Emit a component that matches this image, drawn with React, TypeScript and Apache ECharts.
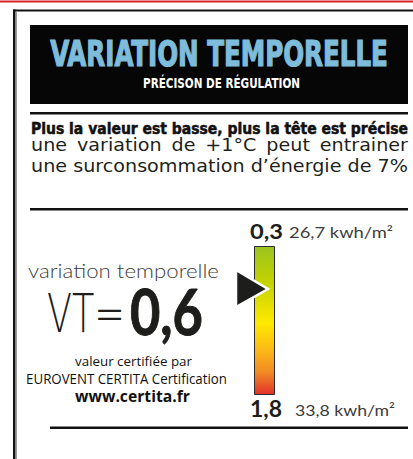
import React, { useEffect, useRef } from 'react';
import * as echarts from 'echarts';

// ---- data ----
const scaleValues = [0.3, 1.8];
const scaleLabels = ['0,3', '1,8'];
const energyLabels = ['26,7 kwh/m²', '33,8 kwh/m²'];
const vtPrefix = 'VT=';
const vtValue = '0,6';
const barColors = ['#9bc31f', '#c5d300', '#ffe900', '#fbb817', '#f08a23', '#e3312b'];
const barStops = [0, 0.25, 0.52, 0.7, 0.85, 1];
const titleText = 'VARIATION TEMPORELLE';
const subtitleText = 'PRÉCISON DE RÉGULATION';
const leadText = 'Plus la valeur est basse, plus la tête est précise';
const bodyLines = [
  'une variation de +1°C peut entrainer',
  'une surconsommation d’énergie de 7%',
];
const caption = 'variation temporelle';
const certLines = ['valeur certifiée par', 'EUROVENT CERTITA Certification', 'www.certita.fr'];

// ---- fonts ----
const COND = "'DejaVu Sans Condensed', 'DejaVu Sans', sans-serif";
const GEO = "Lato, 'Noto Sans', sans-serif";
const BODY = "'DejaVu Sans', sans-serif";
const LIGHT = "'DejaVu Sans', sans-serif";
const MYR = "'Open Sans', 'Noto Sans', sans-serif";

let ctx: CanvasRenderingContext2D | null = null;
function measure(text: string, size: number, weight: string | number, family: string) {
  if (!ctx) ctx = document.createElement('canvas').getContext('2d');
  ctx!.font = `${weight} ${size}px ${family}`;
  return ctx!.measureText(text).width;
}

type TOpts = {
  x: number;
  baseline: number;
  size: number;
  weight?: string | number;
  family: string;
  fill: string;
  align?: 'left' | 'center' | 'right';
  width?: number;
  scale?: number;
  stroke?: number;
};

const K = 0.35;

function txt(text: string, o: TOpts) {
  const weight = o.weight ?? 'normal';
  const w = measure(text, o.size, weight, o.family);
  const sx = o.scale ?? (o.width ? o.width / w : 1);
  const style: any = {
    text,
    fontSize: o.size,
    fontWeight: weight,
    fontFamily: o.family,
    fill: o.fill,
    align: o.align ?? 'left',
    verticalAlign: 'middle',
  };
  if (o.stroke) {
    style.stroke = o.fill;
    style.lineWidth = o.stroke;
  }
  return {
    type: 'text',
    x: o.x,
    y: o.baseline - K * o.size,
    scaleX: sx,
    z: 100,
    style,
  };
}

function justify(line: string, x0: number, x1: number, baseline: number, size: number, family: string, fill: string, scale: number) {
  const words = line.split(' ');
  const widths = words.map((w) => measure(w, size, 'normal', family) * scale);
  const total = widths.reduce((a, b) => a + b, 0);
  const gap = (x1 - x0 - total) / (words.length - 1);
  let x = x0;
  return words.map((w, i) => {
    const el = txt(w, { x, baseline, size, family, fill, scale });
    x += widths[i] + gap;
    return el;
  });
}

function buildGraphics() {
  const els: any[] = [];
  // red top rule
  els.push({ type: 'rect', z: 100, shape: { x: 0, y: 0.5, width: 413, height: 2 }, style: { fill: '#d7232b' } });
  // frame
  els.push({ type: 'rect', z: 100, shape: { x: 13, y: 9.5, width: 400, height: 2 }, style: { fill: '#111' } });
  els.push({ type: 'rect', z: 100, shape: { x: 13, y: 9.5, width: 2.5, height: 450 }, style: { fill: '#111' } });
  els.push({ type: 'rect', z: 100, shape: { x: 16, y: 11.5, width: 1, height: 448 }, style: { fill: '#9a9a9a' } });
  // header box
  els.push({ type: 'rect', z: 100, shape: { x: 30, y: 25, width: 378, height: 79 }, style: { fill: '#060606' } });
  els.push(txt(titleText, { x: 219, baseline: 66.5, size: 36, weight: 'bold', family: COND, fill: '#7ebcdc', align: 'center', width: 338, stroke: 1.2 }));
  els.push(txt(subtitleText, { x: 221.5, baseline: 87.5, size: 14, weight: 'bold', family: COND, fill: '#ffffff', align: 'center', width: 157 }));
  // separators
  els.push({ type: 'rect', z: 100, shape: { x: 30, y: 112, width: 378, height: 2.5 }, style: { fill: '#111' } });
  els.push({ type: 'rect', z: 100, shape: { x: 30, y: 208, width: 378, height: 2.5 }, style: { fill: '#111' } });
  els.push({ type: 'rect', z: 100, shape: { x: 50, y: 426.5, width: 358, height: 2.5 }, style: { fill: '#111' } });
  // lead
  els.push(txt(leadText, { x: 31, baseline: 134, size: 15.5, weight: 'bold', family: COND, fill: '#111', width: 377, stroke: 0.5 }));
  // body justified lines
  const s = 377 / measure(bodyLines[1], 17, 'normal', BODY);
  els.push(...justify(bodyLines[0], 31, 408, 151, 17, BODY, '#231f20', s));
  els.push(...justify(bodyLines[1], 31, 408, 171.5, 17, BODY, '#231f20', s));
  // caption & VT
  els.push(txt(caption, { x: 28, baseline: 277, size: 20, weight: 300, family: GEO, fill: '#3c3c3b', width: 191 }));
  els.push(txt(vtPrefix, { x: 47, baseline: 332, size: 54, weight: 200, family: LIGHT, fill: '#1d1d1b', width: 78 }));
  els.push(txt(vtValue, { x: 130, baseline: 332, size: 64, weight: 'bold', family: GEO, fill: '#1d1d1b', width: 73, stroke: 1 }));
  // certification
  els.push(txt(certLines[0], { x: 133.5, baseline: 366, size: 13, family: MYR, fill: '#111', align: 'center', width: 117 }));
  els.push(txt(certLines[1], { x: 126.5, baseline: 383, size: 15, family: MYR, fill: '#111', align: 'center', width: 201 }));
  els.push(txt(certLines[2], { x: 132.5, baseline: 402, size: 16, weight: 'bold', family: MYR, fill: '#111', align: 'center', width: 115 }));
  // scale labels
  els.push(txt(scaleLabels[0], { x: 266.5, baseline: 238, size: 21, weight: 'bold', family: GEO, fill: '#1d1d1b', align: 'center', width: 33 }));
  els.push(txt(energyLabels[0], { x: 289, baseline: 237, size: 15, family: GEO, fill: '#3c3c3b', width: 104 }));
  els.push(txt(scaleLabels[1], { x: 266, baseline: 416.5, size: 23, weight: 'bold', family: GEO, fill: '#1d1d1b', align: 'center', width: 32 }));
  els.push(txt(energyLabels[1], { x: 295, baseline: 415, size: 16, family: GEO, fill: '#3c3c3b', width: 100 }));
  // pointer
  els.push({
    type: 'polygon',
    z: 120,
    shape: { points: [[236, 270], [236, 307], [268, 289]] },
    style: { fill: '#1d1d1b', stroke: '#ffffff', lineWidth: 2.5, lineJoin: 'miter' },
  });
  return els;
}

export default function App() {
  const ref = useRef<HTMLDivElement>(null);
  useEffect(() => {
    if (!ref.current) return;
    const chart = echarts.init(ref.current, undefined, { renderer: 'svg' });
    const gradient = new echarts.graphic.LinearGradient(
      0, 0, 0, 1,
      barColors.map((c, i) => ({ offset: barStops[i], color: c }))
    );
    chart.setOption({
      animation: false,
      backgroundColor: '#ffffff',
      grid: { left: 254, top: 246, width: 21, height: 149 },
      xAxis: { type: 'category', data: ['VT'], show: false },
      yAxis: { type: 'value', min: scaleValues[0], max: scaleValues[1], inverse: true, show: false },
      series: [
        {
          type: 'bar',
          stack: 'range',
          data: [scaleValues[0]],
          barWidth: '100%',
          silent: true,
          itemStyle: { color: 'rgba(0,0,0,0)' },
        },
        {
          type: 'bar',
          stack: 'range',
          data: [scaleValues[1] - scaleValues[0]],
          barWidth: '100%',
          silent: true,
          itemStyle: { color: gradient, borderColor: '#2b2b2b', borderWidth: 1 },
        },
      ],
      graphic: { elements: buildGraphics() },
    });
    return () => chart.dispose();
  }, []);
  return (
    <div
      ref={ref}
      style={{ position: 'fixed', left: 0, top: 0, width: 413, height: 459, background: '#fff' }}
    />
  );
}
